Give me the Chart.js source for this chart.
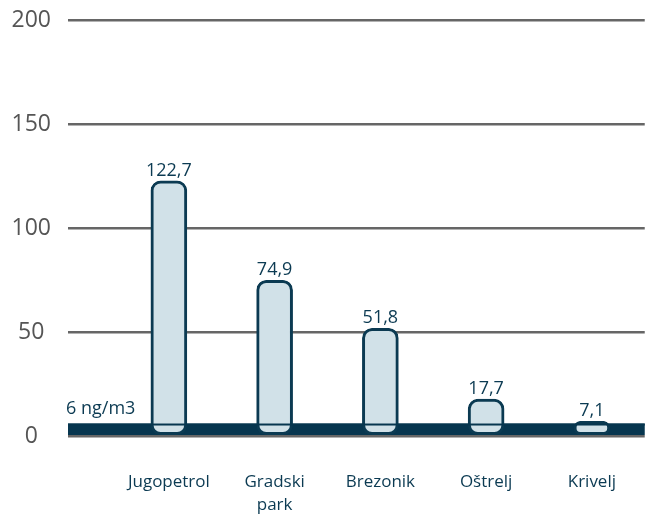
<!DOCTYPE html>
<html>
<head>
<meta charset="utf-8">
<script src="https://cdn.jsdelivr.net/npm/chart.js@4"></script>
<style>
  body { margin: 0; background: #fff; }
</style>
</head>
<body>
<canvas id="chart" width="651" height="515"></canvas>
<script>
const stations = ['Jugopetrol', ['Gradski', 'park'], 'Brezonik', 'Oštrelj', 'Krivelj'];
const values = [122.7, 74.9, 51.8, 17.7, 7.1];
const yTicks = [0, 50, 100, 150, 200];
const limitValue = 6;
const limitLabel = '6 ng/m3';

const navy = '#0b3a52';
const gridLen = 48;

// limit band + value labels
const extras = {
    id: 'extras',
    beforeDatasetsDraw(chart) {
        const { ctx, chartArea, scales: { y } } = chart;
        const top = y.getPixelForValue(limitValue);
        const bottom = y.getPixelForValue(0);
        ctx.save();
        ctx.fillStyle = '#07364f';
        ctx.fillRect(chartArea.left - gridLen, top, chartArea.right - chartArea.left + gridLen, bottom - top - 1);
        ctx.fillStyle = navy;
        ctx.font = '18px "Open Sans"';
        ctx.textAlign = 'left';
        ctx.textBaseline = 'alphabetic';
        ctx.fillText(limitLabel, chartArea.left - gridLen - 2, top - 10);
        ctx.restore();
    },
    afterDatasetsDraw(chart) {
        const { ctx, chartArea, scales: { y } } = chart;
        const top = y.getPixelForValue(limitValue);
        ctx.save();
        ctx.fillStyle = '#07364f';
        ctx.fillRect(chartArea.left - gridLen, top, chartArea.right - chartArea.left + gridLen, 2);
        ctx.fillStyle = navy;
        ctx.font = '18px "Open Sans"';
        ctx.textAlign = 'center';
        ctx.textBaseline = 'alphabetic';
        chart.getDatasetMeta(0).data.forEach((bar, i) => {
            ctx.fillText(String(values[i]).replace('.', ','), bar.x, bar.y - 5);
        });
        ctx.restore();
    }
};

const ctx = document.getElementById('chart').getContext('2d');
const chart = new Chart(ctx, {
    type: 'bar',
    data: {
        labels: stations,
        datasets: [{
            data: values,
            backgroundColor: '#d1e1e8',
            borderColor: navy,
            borderWidth: 3,
            borderRadius: 10,
            borderSkipped: false,
            barThickness: 36
        }]
    },
    options: {
        responsive: false,
        animation: false,
        layout: { padding: { top: 20, right: 0, left: 0, bottom: 0 } },
        scales: {
            x: {
                grid: { display: false, drawTicks: false },
                border: { display: false },
                ticks: {
                    color: navy,
                    font: { family: 'Open Sans', size: 17, lineHeight: 1.35 },
                    padding: 35,
                    maxRotation: 0
                },
                afterFit(scale) { scale.height = 79; }
            },
            y: {
                min: 0,
                max: 200,
                afterBuildTicks(scale) { scale.ticks = yTicks.map(v => ({ value: v })); },
                grid: {
                    color: '#666',
                    lineWidth: 2.5,
                    tickLength: gridLen,
                    tickColor: '#666'
                },
                border: { display: false },
                ticks: {
                    color: '#555',
                    font: { family: 'Open Sans', size: 23 },
                    padding: 17,
                    crossAlign: 'center'
                },
                afterFit(scale) {
                    scale.width = 116;
                    scale.paddingTop = 0;
                }
            }
        },
        plugins: {
            legend: { display: false },
            tooltip: { enabled: false }
        }
    },
    plugins: [extras]
});
</script>
</body>
</html>
